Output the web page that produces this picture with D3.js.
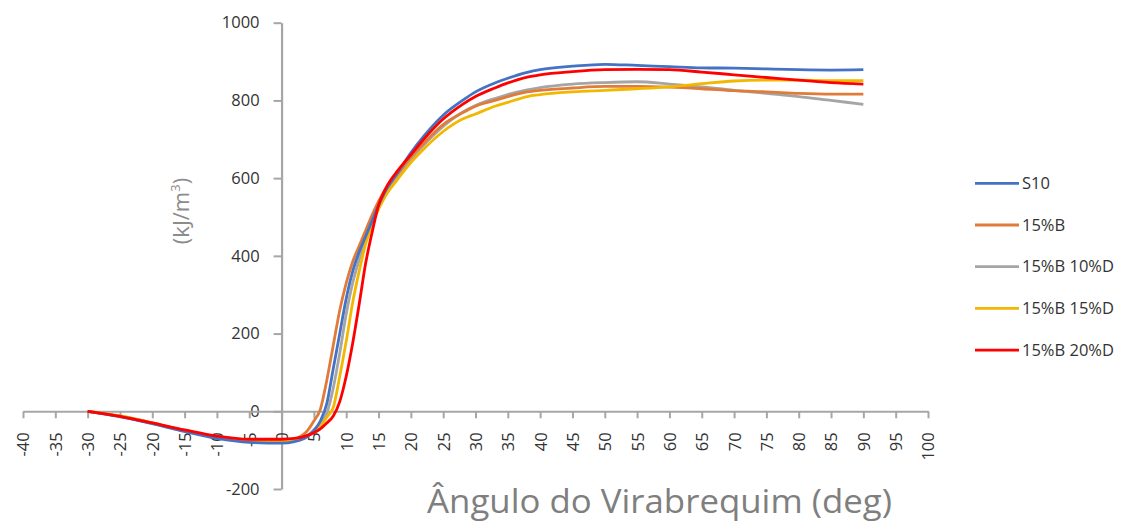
<!DOCTYPE html>
<html><head><meta charset="utf-8">
<script src="https://cdn.jsdelivr.net/npm/d3@7"></script>
<style>body{margin:0;background:#fff}svg{display:block}</style>
</head><body>
<svg id="c" width="1133" height="521"></svg>
<script>
const xs = [-30,-25,-20,-15,-10,-5,0,2,4,5,6,7,8,9,10,11,12,13,14,15,16,18,20,22,25,28,30,33,35,38,40,45,50,55,60,65,70,75,80,85,90];
const s10      = [0,-14,-32,-52,-70,-80,-82,-78,-65,-50,-25,20,110,200,290,360,410,450,490,530,565,615,665,708,762,800,822,845,857,872,879,888,893,890,887,884,883,881,879,878,879];
const b15      = [0,-12,-30,-50,-66,-76,-78,-72,-50,-25,5,80,170,260,330,385,425,465,505,540,570,612,655,690,738,768,785,800,810,822,826,832,836,836,834,830,825,822,818,816,816];
const b15d10   = [0,-13,-31,-51,-68,-78,-80,-76,-62,-48,-30,-5,60,150,250,330,390,440,485,525,560,605,648,685,733,770,787,805,815,827,833,842,846,848,842,835,826,818,810,800,790];
const b15d15   = [0,-12,-30,-49,-66,-75,-77,-74,-64,-52,-40,-15,10,90,180,280,360,430,480,520,552,598,640,675,720,752,765,785,795,810,815,822,826,830,835,843,850,852,852,851,851];
const b15d20   = [0,-13,-30,-48,-64,-72,-72,-70,-62,-55,-45,-30,-12,25,90,175,275,380,460,530,570,620,660,700,752,790,810,832,845,860,866,874,879,880,879,873,866,859,852,846,842];
const seriesNames = ["S10","15%B","15%B 10%D","15%B 15%D","15%B 20%D"];
const seriesColors = ["#4472C4","#E07B39","#A5A5A5","#F2B800","#FF0000"];
const seriesValues = [s10,b15,b15d10,b15d15,b15d20];
const xTicks = d3.range(-40,101,5);
const yTicks = [-200,0,200,400,600,800,1000];

const svg = d3.select("#c");
const x = d3.scaleLinear().domain([-40,100]).range([23,928]);
const y = d3.scaleLinear().domain([-200,1000]).range([489,22.7]);
const axisCol = "#a6a6a6";
const fmt = d => String(d);

// y axis at x=0
const gy = svg.append("g").attr("transform",`translate(${x(0)},0)`)
  .call(d3.axisLeft(y).tickValues(yTicks).tickFormat(fmt).tickSize(8).tickSizeOuter(0).tickPadding(14));
gy.select(".domain").attr("stroke",axisCol).attr("stroke-width",2.2);
gy.selectAll(".tick line").attr("stroke",axisCol).attr("stroke-width",2);
gy.selectAll(".tick text").attr("fill","#333").attr("font-size",16.5).attr("font-family","Open Sans, sans-serif");

// x axis at y=0
const gx = svg.append("g").attr("transform",`translate(0,${y(0)})`)
  .call(d3.axisBottom(x).tickValues(xTicks).tickFormat(fmt).tickSize(7).tickSizeOuter(0));
gx.select(".domain").attr("stroke",axisCol).attr("stroke-width",2);
gx.selectAll(".tick line").attr("stroke",axisCol).attr("stroke-width",2);
gx.selectAll(".tick text")
  .attr("transform","rotate(-90)")
  .attr("x",-21).attr("y",0).attr("dy","0.36em")
  .attr("text-anchor","end")
  .attr("fill","#333").attr("font-size",16.5).attr("font-family","Open Sans, sans-serif");

// lines
const line = d3.line().x((d,i)=>x(xs[i])).y(d=>y(d)).curve(d3.curveMonotoneX);
const order = [2,1,3,0,4];
order.forEach(k=>{
  svg.append("path").datum(seriesValues[k]).attr("d",line)
    .attr("fill","none").attr("stroke",seriesColors[k]).attr("stroke-width",2.8)
    .attr("stroke-linejoin","round");
});

// titles
svg.append("text").attr("transform","translate(189,211) rotate(-90)")
  .attr("text-anchor","middle").attr("fill","#8c8c8c").attr("font-size",22)
  .attr("font-family","Open Sans, sans-serif")
  .html('(kJ/m<tspan font-size="13" dy="-9">3</tspan><tspan dy="9">)</tspan>');
svg.append("text").attr("x",427).attr("y",513)
  .attr("fill","#7f7f7f").attr("font-size",32).attr("font-family","Open Sans, sans-serif")
  .attr("textLength",465).attr("lengthAdjust","spacingAndGlyphs")
  .text("Ângulo do Virabrequim (deg)");

// legend
const lg = svg.append("g");
seriesNames.forEach((n,i)=>{
  const yy = 183.3 + i*41.7;
  lg.append("line").attr("x1",975).attr("x2",1019).attr("y1",yy).attr("y2",yy)
    .attr("stroke",seriesColors[i]).attr("stroke-width",2.8);
  lg.append("text").attr("x",1022).attr("y",yy).attr("dy","0.35em")
    .attr("fill","#333").attr("font-size",16.5).attr("font-family","Open Sans, sans-serif").text(n);
});
</script>
</body></html>
